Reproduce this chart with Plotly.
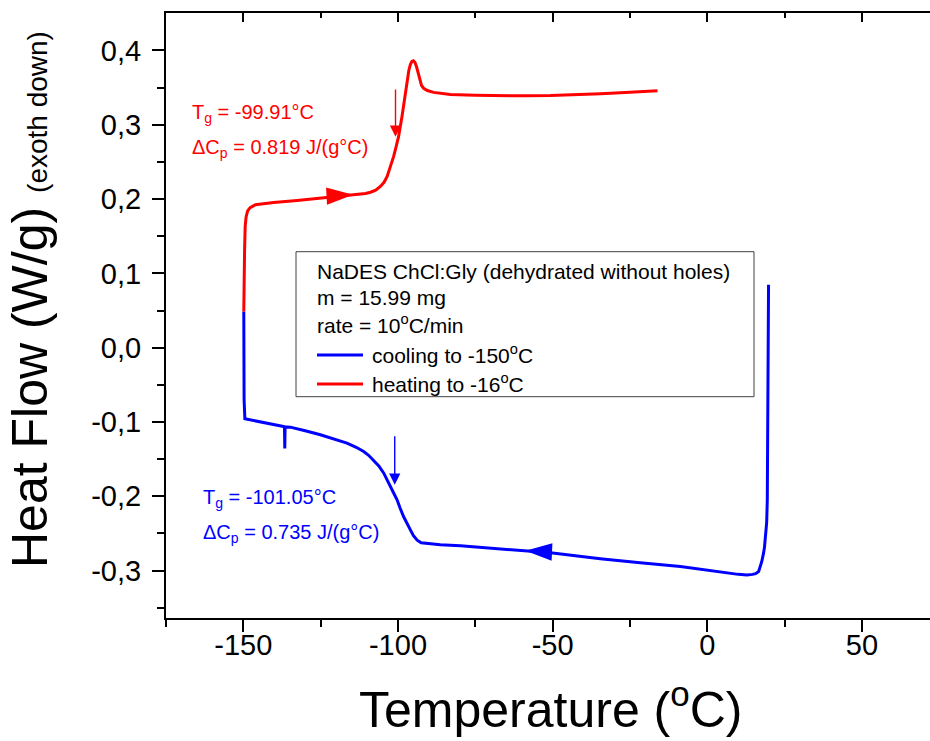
import plotly.graph_objects as go

# ---------------- data ----------------
cool_T = [19.8, 19.7, 19.6, 19.5, 19.4, 19.2, 18.8, 18.5, 18.2, 17.6, 16.6, 15.6, 14.6, 12.8,
          10.0, 4.2, -8.7, -21.7, -34.6, -50.7, -66.9, -79.8, -86.3, -90.6, -92.5, -93.8,
          -95.0, -96.0, -97.1, -98.2, -99.3, -100.3, -101.4, -102.5, -103.5, -104.6, -106.2,
          -107.9, -109.5, -111.1, -113.5, -116.5, -120.5, -125.1, -130.0, -134.8, -136.5,
          -136.6, -136.7, -137.0, -142.9, -147.7, -148.8, -149.5, -149.75, -149.85]
cool_HF = [0.0847, -0.0163, -0.1199, -0.1700, -0.2047, -0.2350, -0.2585, -0.2680, -0.2761,
           -0.2880, -0.3012, -0.3040, -0.3050, -0.3057, -0.3050, -0.3016, -0.2945, -0.2895,
           -0.2841, -0.2760, -0.2706, -0.2666, -0.2652, -0.2639, -0.2625, -0.2590, -0.2530,
           -0.2451, -0.2365, -0.2272, -0.2160, -0.2047, -0.1955, -0.1868, -0.1775, -0.1688,
           -0.1590, -0.1509, -0.1448, -0.1397, -0.1340, -0.1284, -0.1230, -0.1172, -0.1118,
           -0.1069, -0.1066, -0.1355, -0.1064, -0.1061, -0.1011, -0.0977, -0.0970, -0.0957,
           -0.0701, 0.0487]

heat_T = [-149.85, -149.8, -149.7, -149.6, -149.4, -149.1, -148.6, -147.8, -146.1, -143.0,
          -140.2, -132.6, -121.9, -114.3, -110.5, -108.9, -107.2, -105.7, -104.5, -103.5,
          -102.4, -101.4, -100.6, -99.8, -98.7, -97.6, -97.0, -96.5, -96.0, -95.5, -95.0,
          -94.5, -94.0, -93.5, -93.0, -92.4, -91.7, -90.5, -88.5, -86.0, -83.1, -75.0,
          -66.9, -58.0, -50.7, -42.0, -34.5, -25.0, -16.1]
heat_HF = [0.0487, 0.0800, 0.1004, 0.1300, 0.1631, 0.1760, 0.1840, 0.1885, 0.1923, 0.1940,
           0.1954, 0.1981, 0.2027, 0.2058, 0.2075, 0.2092, 0.2120, 0.2170, 0.2225, 0.2304,
           0.2430, 0.2573, 0.2705, 0.2843, 0.3112, 0.3427, 0.3600, 0.3730, 0.3810, 0.3852,
           0.3860, 0.3838, 0.3780, 0.3690, 0.3600, 0.3530, 0.3490, 0.3460, 0.3435, 0.3418,
           0.3405, 0.3395, 0.3390, 0.3388, 0.3392, 0.3403, 0.3417, 0.3437, 0.3458]

# direction markers on the curves (arrow tips)
dir_cool_T, dir_cool_HF = [-58.8], [-0.2733]
dir_heat_T, dir_heat_HF = [-114.5], [0.2057]

# glass transition markers (Tg): x, arrow tail y, arrow tip y
tg_cool = (-101.05, -0.117, -0.1845)
tg_heat = (-100.8, 0.3494, 0.2838)

x_ticks = [-150, -100, -50, 0, 50]
x_ticktext = ["-150", "-100", "-50", "0", "50"]
x_minor = [-175, -125, -75, -25, 25]
y_ticks = [-0.3, -0.2, -0.1, 0.0, 0.1, 0.2, 0.3, 0.4]
y_ticktext = ["-0,3", "-0,2", "-0,1", "0,0", "0,1", "0,2", "0,3", "0,4"]
y_minor = [-0.35, -0.25, -0.15, -0.05, 0.05, 0.15, 0.25, 0.35]

legend_header = ["NaDES ChCl:Gly (dehydrated without holes)", "m = 15.99 mg",
                 "rate = 10<sup>o</sup>C/min"]
series_names = ["cooling to -150<sup>o</sup>C", "heating to -16<sup>o</sup>C"]

BLUE = "#0000FF"
RED = "#FF0000"
FONT = "Liberation Sans, Arial, sans-serif"

# plot area in pixels (for placing paper-referenced items)
W, H = 930, 741
L, R, T, B = 166, 0, 13, 123
PW, PH = W - L - R, H - T - B


def px(xp):
    return (xp - L) / PW


def py(yp):
    return (H - B - yp) / PH


fig = go.Figure()
fig.add_trace(go.Scatter(x=cool_T, y=cool_HF, mode="lines", name=series_names[0],
                         showlegend=False, line=dict(color=BLUE, width=3)))
fig.add_trace(go.Scatter(x=heat_T, y=heat_HF, mode="lines", name=series_names[1],
                         showlegend=False, line=dict(color=RED, width=3)))
fig.add_trace(go.Scatter(x=dir_cool_T, y=dir_cool_HF, mode="markers", showlegend=False,
                         marker=dict(symbol="arrow", angle=-87.4, size=28, color=BLUE,
                                     line=dict(width=0))))
fig.add_trace(go.Scatter(x=dir_heat_T, y=dir_heat_HF, mode="markers", showlegend=False,
                         marker=dict(symbol="arrow", angle=87, size=28, color=RED,
                                     line=dict(width=0))))
# invisible trace to register the top axis
fig.add_trace(go.Scatter(x=heat_T[:1], y=heat_HF[:1], xaxis="x2", mode="markers",
                         marker=dict(opacity=0), showlegend=False, hoverinfo="skip"))

for (tx, ty0, ty1), col in ((tg_cool, BLUE), (tg_heat, RED)):
    fig.add_annotation(x=tx, y=ty1, ax=tx, ay=ty0, xref="x", yref="y", axref="x", ayref="y",
                       showarrow=True, arrowhead=2, arrowsize=1.6, arrowwidth=1.4,
                       arrowcolor=col, text="")

txt_font_red = dict(family=FONT, size=20, color=RED)
txt_font_blue = dict(family=FONT, size=20, color=BLUE)
fig.add_annotation(x=-167.2, y=0.3148, xref="x", yref="y", xanchor="left", yanchor="middle",
                   text="T<sub>g</sub> = -99.91°C", showarrow=False, font=txt_font_red)
fig.add_annotation(x=-167.2, y=0.2686, xref="x", yref="y", xanchor="left", yanchor="middle",
                   text="ΔC<sub>p</sub> = 0.819 J/(g°C)", showarrow=False, font=txt_font_red)
fig.add_annotation(x=-163.8, y=-0.2030, xref="x", yref="y", xanchor="left", yanchor="middle",
                   text="T<sub>g</sub> = -101.05°C", showarrow=False, font=txt_font_blue)
fig.add_annotation(x=-163.8, y=-0.2500, xref="x", yref="y", xanchor="left", yanchor="middle",
                   text="ΔC<sub>p</sub> = 0.735 J/(g°C)", showarrow=False, font=txt_font_blue)

# legend box (drawn by hand to match the reference layout)
fig.add_shape(type="rect", xref="paper", yref="paper", x0=px(296), x1=px(754),
              y0=py(396.7), y1=py(251.7), line=dict(color="#404040", width=1),
              fillcolor="white", layer="above")
leg_font = dict(family=FONT, size=21, color="black")
for txt, yc in zip(legend_header, [271.4, 297.0, 324.0]):
    fig.add_annotation(x=px(315), y=py(yc), xref="paper", yref="paper", xanchor="left",
                       yanchor="middle", text=txt, showarrow=False, font=leg_font)
for txt, col, yl, yc in zip(series_names, [BLUE, RED], [355.0, 384.0], [354.4, 383.0]):
    fig.add_shape(type="line", xref="paper", yref="paper", x0=px(317), x1=px(363),
                  y0=py(yl), y1=py(yl), line=dict(color=col, width=3), layer="above")
    fig.add_annotation(x=px(370), y=py(yc), xref="paper", yref="paper", xanchor="left",
                       yanchor="middle", text=txt, showarrow=False, font=leg_font)

# axis titles
fig.add_annotation(x=px(30), y=py(300), xref="paper", yref="paper", textangle=-90,
                   xanchor="center", yanchor="middle", showarrow=False,
                   text="Heat Flow (W/g) <span style='font-size:28px'>(exoth down)</span>",
                   font=dict(family=FONT, size=50, color="black"))
fig.add_annotation(x=px(550), y=py(740), xref="paper", yref="paper",
                   xanchor="center", yanchor="bottom", showarrow=False,
                   text="Temperature (<sup>o</sup>C)",
                   font=dict(family=FONT, size=50, color="black"))

axis_common = dict(showgrid=False, zeroline=False, showline=True, linecolor="black",
                   linewidth=2, tickcolor="black", tickwidth=2, automargin=False)

fig.update_layout(
    width=W, height=H,
    margin=dict(l=L, r=R, t=T, b=B, autoexpand=False),
    paper_bgcolor="white", plot_bgcolor="white",
    font=dict(family=FONT, color="black"),
    showlegend=False,
    xaxis=dict(range=[-175, 72], tickvals=x_ticks, ticktext=x_ticktext, ticks="outside",
               ticklen=12, ticklabelstandoff=-12, tickfont=dict(size=29, family=FONT),
               minor=dict(tickvals=x_minor, ticks="outside", ticklen=7, tickwidth=2,
                          tickcolor="black"),
               **axis_common),
    xaxis2=dict(range=[-175, 72], overlaying="x", side="top", tickvals=x_ticks,
                ticks="inside", ticklen=9, showticklabels=False,
                minor=dict(tickvals=x_minor, ticks="inside", ticklen=5, tickwidth=2,
                           tickcolor="black"),
                **axis_common),
    yaxis=dict(range=[-0.3637, 0.4503], tickvals=y_ticks, ticktext=y_ticktext,
               ticks="outside", ticklen=12, ticklabelstandoff=5,
               tickfont=dict(size=29, family=FONT),
               minor=dict(tickvals=y_minor, ticks="outside", ticklen=7, tickwidth=2,
                          tickcolor="black"),
               **axis_common),
)

fig.write_html("out.html", config={"displayModeBar": False},
               post_script="document.body.style.margin='0';"
                           "document.body.style.overflow='hidden';")
